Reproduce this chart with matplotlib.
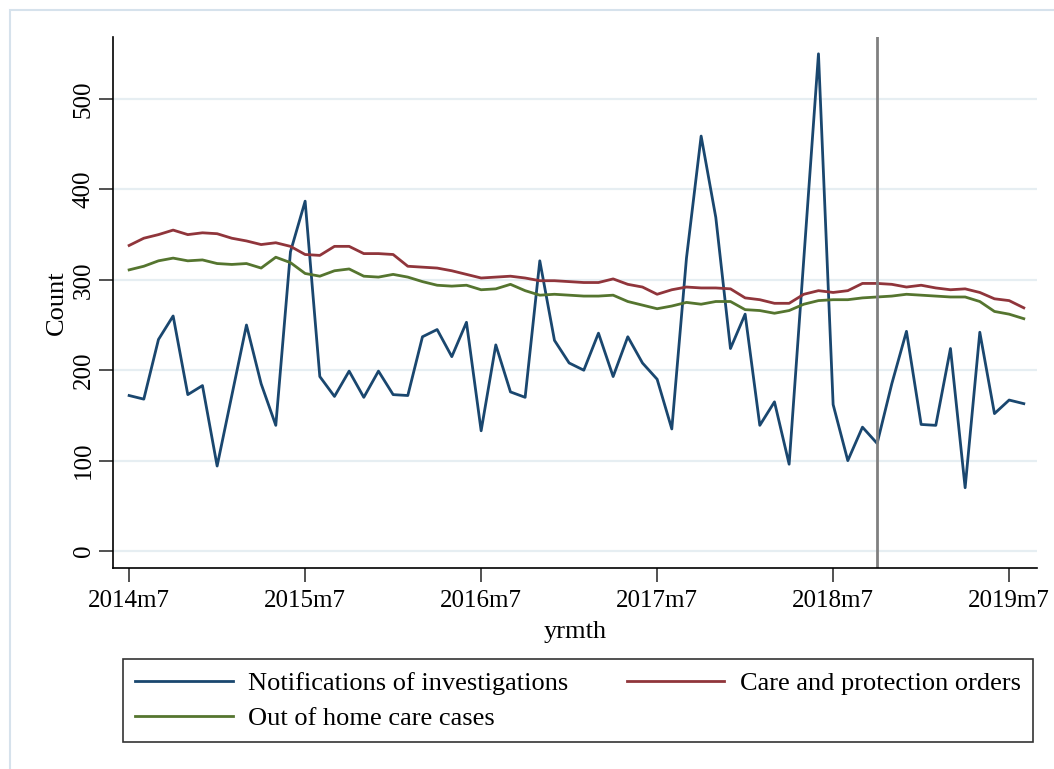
import matplotlib
matplotlib.use('Agg')
import matplotlib.pyplot as plt
from matplotlib.patches import Rectangle

# monthly series, 2014m7 .. 2019m8
notif = [172, 168, 234, 260, 173, 183, 94, 172, 250, 185,
         139, 331, 387, 193, 171, 199, 170, 199, 173, 172,
         237, 245, 215, 253, 133, 228, 176, 170, 321, 233,
         208, 200, 241, 193, 237, 208, 190, 135, 324, 459,
         369, 224, 262, 139, 165, 96, 323, 550, 162, 100,
         137, 119, 185, 243, 140, 139, 224, 70, 242, 152,
         167, 163]
care = [338, 346, 350, 355, 350, 352, 351, 346, 343, 339,
        341, 337, 328, 327, 337, 337, 329, 329, 328, 315,
        314, 313, 310, 306, 302, 303, 304, 302, 299, 299,
        298, 297, 297, 301, 295, 292, 284, 289, 292, 291,
        291, 290, 280, 278, 274, 274, 284, 288, 286, 288,
        296, 296, 295, 292, 294, 291, 289, 290, 286, 279,
        277, 269]
ohc = [311, 315, 321, 324, 321, 322, 318, 317, 318, 313,
       325, 319, 307, 304, 310, 312, 304, 303, 306, 303,
       298, 294, 293, 294, 289, 290, 295, 288, 283, 284,
       283, 282, 282, 283, 276, 272, 268, 271, 275, 273,
       276, 276, 267, 266, 263, 266, 273, 277, 278, 278,
       280, 281, 282, 284, 283, 282, 281, 281, 276, 265,
       262, 257]
months = list(range(len(notif)))
tick_pos = [0, 12, 24, 36, 48, 60]
tick_lab = ['2014m7', '2015m7', '2016m7', '2017m7', '2018m7', '2019m7']
y_ticks = [0, 100, 200, 300, 400, 500]
vline_month = 51  # 2018m10

plt.rcParams['font.family'] = ['Liberation Serif', 'DejaVu Serif']

fig = plt.figure(figsize=(10.54, 7.69), dpi=100)
fig.patches.append(Rectangle((10/1054, -0.01), 1.05, 1 - 10/769 + 0.01,
                             transform=fig.transFigure, fill=False,
                             edgecolor='#d6e2ec', lw=1.5))

ax = fig.add_axes([113/1054, 1 - 568/769, (1037-113)/1054, (568-37)/769])

ax.plot(months, notif, color='#1a476f', lw=2, label='Notifications of investigations')
ax.plot(months, care, color='#90353b', lw=2, label='Care and protection orders')
ax.plot(months, ohc, color='#55752f', lw=2, label='Out of home care cases')
ax.axvline(vline_month, color='#808080', lw=2)

ax.set_xlim(-1.1, 61.9)
ax.set_ylim(-18.8, 568.6)
ax.set_xticks(tick_pos)
ax.set_xticklabels(tick_lab)
ax.set_yticks(y_ticks)
ax.set_yticklabels([str(v) for v in y_ticks], rotation=90, va='center')
ax.tick_params(labelsize=18, length=10, width=1.2, color='#333333')
ax.tick_params(axis='y', pad=3)
ax.tick_params(axis='x', pad=6)
ax.grid(axis='y', color='#e6eef2', lw=1.6)
ax.set_axisbelow(True)
for s in ['top', 'right']:
    ax.spines[s].set_visible(False)
for s in ['left', 'bottom']:
    ax.spines[s].set_linewidth(1.2)

ax.set_xlabel('yrmth', fontsize=19, labelpad=6)
ax.set_ylabel('Count', fontsize=19, labelpad=4)

h, l = ax.get_legend_handles_labels()
order = [0, 2, 1]
leg = fig.legend([h[i] for i in order], [l[i] for i in order], ncol=2,
                 loc='lower left', mode='expand',
                 bbox_to_anchor=(123/1054, 1 - 742/769, (1033-123)/1054, (742-657)/769),
                 fontsize=19, frameon=True, fancybox=False, edgecolor='black',
                 handlelength=3.7, handletextpad=0.6, labelspacing=0.45,
                 borderpad=0.45, borderaxespad=0)
leg.get_frame().set_linewidth(1.2)

fig.savefig('out.png', dpi=100, facecolor='white')
